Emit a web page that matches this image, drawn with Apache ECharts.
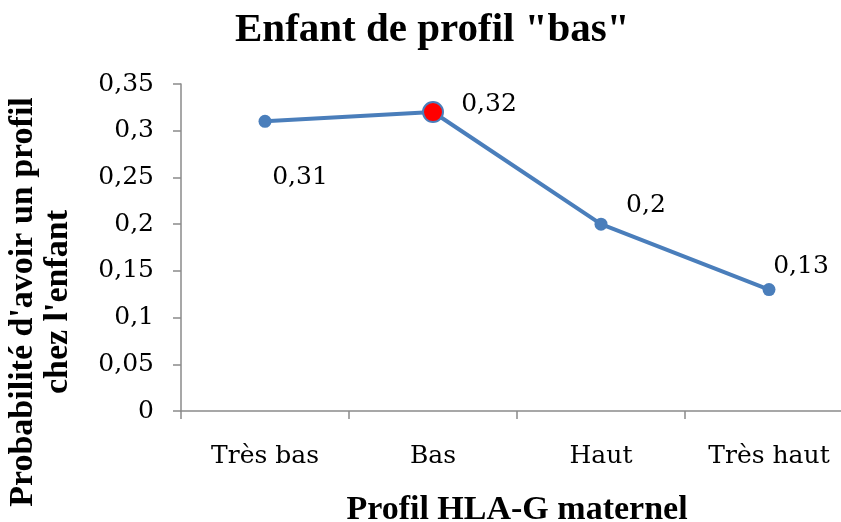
<!DOCTYPE html>
<html>
<head>
<meta charset="utf-8">
<script src="https://cdn.jsdelivr.net/npm/echarts@6/dist/echarts.min.js"></script>
<style>
  html, body { margin: 0; padding: 0; background: #fff; }
  #main { width: 841px; height: 522px; }
</style>
</head>
<body>
<div id="main"></div>
<script>
// données
var categories = ['Très bas', 'Bas', 'Haut', 'Très haut'];
var probas = [0.31, 0.32, 0.2, 0.13];
var highlightIndex = 1; // point "Bas" en rouge
var labelOffsets = [[35, 56], [56, -8], [45, -19], [32, -23]];

var numFont = 'DejaVu Serif';
var boldFont = 'Liberation Serif';

function fmt(v) {
  return String(v).replace('.', ',');
}

var chart = echarts.init(document.getElementById('main'), null, { renderer: 'canvas' });

var seriesData = probas.map(function (v, i) {
  var item = {
    value: v,
    label: { offset: labelOffsets[i] }
  };
  if (i === highlightIndex) {
    item.symbolSize = 20;
    item.itemStyle = { color: '#FF0000', borderColor: '#4A7EBB', borderWidth: 2 };
  }
  return item;
});

var option = {
  backgroundColor: '#fff',
  animation: false,
  title: {
    text: 'Enfant de profil "bas"',
    left: 230,
    top: 5,
    textStyle: {
      fontFamily: boldFont,
      fontWeight: 'bold',
      fontSize: 41,
      color: '#000'
    }
  },
  grid: {
    left: 181,
    top: 84,
    width: 672,
    height: 327,
    outerBoundsMode: 'none',
    containLabel: false
  },
  xAxis: {
    type: 'category',
    data: categories,
    boundaryGap: true,
    name: 'Profil HLA-G maternel',
    nameLocation: 'middle',
    nameGap: 82,
    nameTextStyle: {
      fontFamily: boldFont,
      fontWeight: 'bold',
      fontSize: 34,
      color: '#000'
    },
    axisLine: { lineStyle: { color: '#8a8a8a', width: 1.5 } },
    axisTick: { show: true, length: 8, lineStyle: { color: '#8a8a8a', width: 1.5 } },
    axisLabel: {
      margin: 33,
      fontFamily: numFont,
      fontSize: 25,
      color: '#000'
    }
  },
  yAxis: {
    type: 'value',
    min: 0,
    max: 0.35,
    interval: 0.05,
    axisLine: { show: true, lineStyle: { color: '#8a8a8a', width: 1.5 } },
    axisTick: { show: true, length: 8, lineStyle: { color: '#8a8a8a', width: 1.5 } },
    splitLine: { show: false },
    axisLabel: {
      margin: 27,
      fontFamily: numFont,
      fontSize: 25,
      color: '#000',
      formatter: function (v) { return fmt(+v.toFixed(2)); }
    }
  },
  graphic: [{
    type: 'text',
    x: 41,
    y: 302,
    rotation: Math.PI / 2,
    style: {
      text: "Probabilité d'avoir un profil\nchez l'enfant",
      font: 'bold 34px "Liberation Serif"',
      fill: '#000',
      align: 'center',
      verticalAlign: 'middle',
      lineHeight: 35
    }
  }],
  series: [{
    type: 'line',
    data: seriesData,
    symbol: 'circle',
    symbolSize: 13,
    showAllSymbol: true,
    lineStyle: { color: '#4A7EBB', width: 4 },
    itemStyle: { color: '#4A7EBB' },
    label: {
      show: true,
      position: 'inside',
      fontFamily: numFont,
      fontSize: 25,
      color: '#000',
      formatter: function (p) { return fmt(p.value); }
    }
  }]
};

chart.setOption(option);
</script>
</body>
</html>
